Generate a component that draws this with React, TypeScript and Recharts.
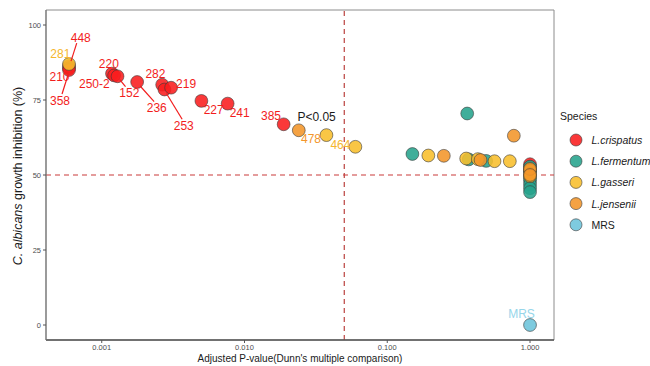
import React from 'react';
import { ScatterChart, Scatter, XAxis, YAxis, ReferenceLine, ReferenceArea } from 'recharts';

const FONT = '"Liberation Sans", Arial, Helvetica, sans-serif';

// ---------- data ----------
const speciesNames = ['L.crispatus', 'L.fermentum', 'L.gasseri', 'L.jensenii', 'MRS'];

const crispatusP = [0.00059, 0.00059, 0.00059, 0.00118, 0.00122, 0.00129, 0.00177, 0.00265, 0.00275, 0.00306, 0.00499, 0.00762, 0.0188, 1, 1, 1];
const crispatusInh = [86.3, 85.6, 85.0, 83.8, 83.2, 82.9, 81.0, 80.1, 78.5, 79.1, 74.7, 73.8, 66.9, 53.6, 52.6, 51.6];
const crispatusLabels = ['448', '210', '358', '220', '250-2', '152', '236', '282', '253', '219', '227', '241', '385', '', '', ''];

const fermentumP = [0.15, 0.363, 0.372, 0.493, 1, 1, 1, 1, 1, 1, 1];
const fermentumInh = [57.0, 70.5, 55.2, 54.7, 52.8, 51.0, 49.0, 48.0, 46.8, 45.6, 44.3];
const fermentumLabels = ['', '', '', '', '', '', '', '', '', '', ''];

const gasseriP = [0.00059, 0.0375, 0.0598, 0.194, 0.357, 0.431, 0.564, 0.722, 1, 1, 1];
const gasseriInh = [87.0, 63.3, 59.4, 56.5, 55.5, 55.3, 54.6, 54.6, 51.5, 50.3, 49.6];
const gasseriLabels = ['281', '464', '', '', '', '', '', '', '', '', ''];

const jenseniiP = [0.024, 0.249, 0.45, 0.77, 1, 1];
const jenseniiInh = [64.9, 56.4, 55.0, 63.1, 52.0, 50.0];
const jenseniiLabels = ['478', '', '', '', '', ''];

const mrsP = [1];
const mrsInh = [0];
const mrsLabels = ['MRS'];

const xTicks = [0.001, 0.01, 0.1, 1];
const yTicks = [0, 25, 50, 75, 100];
const pThreshold = 0.05;
const inhThreshold = 50;
const annotationText = 'P<0.05';
const annotationP = 0.032;
const annotationInh = 69.2;

// ---------- styles ----------
const X_DOMAIN = [0.000407, 1.472];
const Y_DOMAIN = [-5, 105];

const COLORS = ['#F91C1E', '#25A38C', '#F8BE2B', '#F39529', '#6CC4DB'];
const LABEL_COLORS = ['#F21D1D', '#25A38C', '#F5B62E', '#F3962B', '#96D6EA'];

// label offsets in pixels (text centre relative to point), optional leader segment
const LABEL_OFFSETS: Record<string, { dx: number; dy: number; seg?: [number, number, number, number] }> = {
  '448': { dx: 11.7, dy: -28.5, seg: [2, -5, 7.7, -23] },
  '210': { dx: -9.5, dy: 8.3 },
  '358': { dx: -9, dy: 31, seg: [-1, 5, -7, 24] },
  '220': { dx: -3.2, dy: -9.3 },
  '250-2': { dx: -19.7, dy: 8.6 },
  '152': { dx: 11.8, dy: 17, seg: [2, 3, 8, 10.4] },
  '236': { dx: 19.6, dy: 26.3, seg: [3, 4, 17, 19.7] },
  '282': { dx: -6.7, dy: -10.4 },
  '253': { dx: 19.3, dy: 36.2, seg: [2, 4, 17.7, 29.8] },
  '219': { dx: 15, dy: -3.4 },
  '227': { dx: 12.3, dy: 9 },
  '241': { dx: 12, dy: 9 },
  '385': { dx: -12.6, dy: -8.6 },
  '281': { dx: -8.7, dy: -9.7 },
  '464': { dx: 14, dy: 10 },
  '478': { dx: 12.2, dy: 9 },
  'MRS': { dx: -8.5, dy: -11 },
};

const seriesP = [crispatusP, fermentumP, gasseriP, jenseniiP, mrsP];
const seriesInh = [crispatusInh, fermentumInh, gasseriInh, jenseniiInh, mrsInh];
const seriesLabels = [crispatusLabels, fermentumLabels, gasseriLabels, jenseniiLabels, mrsLabels];

const seriesData = speciesNames.map((name, i) =>
  seriesP[i].map((p, j) => ({ x: p, y: seriesInh[i][j], label: seriesLabels[i][j], si: i }))
);
const labelData = seriesData.flat().filter((d) => d.label !== '');
const annotationData = [{ x: annotationP, y: annotationInh, text: annotationText }];

const makePoint = (color: string) => (props: any) => {
  const { cx, cy } = props;
  if (cx == null || cy == null) return <g />;
  return <circle cx={cx} cy={cy} r={6.4} fill={color} fillOpacity={0.88} stroke="#3a3a3a" strokeWidth={0.6} />;
};

const LabelShape = (props: any) => {
  const { cx, cy, payload } = props;
  if (cx == null || cy == null) return <g />;
  const off = LABEL_OFFSETS[payload.label] || { dx: 0, dy: -10 };
  const color = LABEL_COLORS[payload.si];
  return (
    <g>
      {off.seg && (
        <line
          x1={cx + off.seg[0]}
          y1={cy + off.seg[1]}
          x2={cx + off.seg[2]}
          y2={cy + off.seg[3]}
          stroke={color}
          strokeWidth={1.2}
        />
      )}
      <text
        x={cx + off.dx}
        y={cy + off.dy}
        textAnchor="middle"
        dominantBaseline="central"
        fontSize={12}
        fontFamily={FONT}
        fill={color}
      >
        {payload.label}
      </text>
    </g>
  );
};

const AnnotationShape = (props: any) => {
  const { cx, cy, payload } = props;
  if (cx == null || cy == null) return <g />;
  return (
    <text x={cx} y={cy} textAnchor="middle" dominantBaseline="central" fontSize={12} fontFamily={FONT} fill="#1a1a1a">
      {payload.text}
    </text>
  );
};

const YTitle = (props: any) => {
  const vb = props.viewBox || { x: 0, y: 10, width: 46, height: 330 };
  const x = vb.x + 18;
  const y = vb.y + vb.height / 2 + 1;
  return (
    <text
      x={x}
      y={y}
      transform={`rotate(-90, ${x}, ${y})`}
      textAnchor="middle"
      dominantBaseline="central"
      fontSize={12.5}
      fontFamily={FONT}
      fill="#1a1a1a"
    >
      <tspan fontStyle="italic">C. albicans</tspan>
      <tspan> growth inhibition (%)</tspan>
    </text>
  );
};

const XTitle = (props: any) => {
  const vb = props.viewBox || { x: 46, y: 340, width: 508, height: 26 };
  return (
    <text
      x={vb.x + vb.width / 2}
      y={vb.y + 21.5}
      textAnchor="middle"
      fontSize={10}
      fontFamily={FONT}
      fill="#1a1a1a"
    >
      Adjusted P-value(Dunn's multiple comparison)
    </text>
  );
};

const LegendBox = () => (
  <svg
    width={95}
    height={140}
    style={{ position: 'absolute', left: 555, top: 106, overflow: 'visible' }}
  >
    <text x={5} y={14} fontSize={10.5} fontFamily={FONT} fill="#1a1a1a">
      Species
    </text>
    {speciesNames.map((name, i) => (
      <g key={name}>
        <circle cx={21} cy={34 + i * 21.2} r={6} fill={COLORS[i]} fillOpacity={0.88} stroke="#3a3a3a" strokeWidth={0.6} />
        <text
          x={36.5}
          y={34 + i * 21.2}
          dominantBaseline="central"
          fontSize={10.5}
          fontFamily={FONT}
          fontStyle={name === 'MRS' ? 'normal' : 'italic'}
          fill="#1a1a1a"
        >
          {name}
        </text>
      </g>
    ))}
  </svg>
);

export default function App() {
  return (
    <div style={{ position: 'absolute', left: 0, top: 0, width: 650, height: 366, background: '#fff', overflow: 'hidden' }}>
      <ScatterChart width={650} height={366} margin={{ top: 10, right: 96, bottom: 0, left: 0 }}>
        <ReferenceArea
          x1={X_DOMAIN[0]}
          x2={X_DOMAIN[1]}
          y1={Y_DOMAIN[0]}
          y2={Y_DOMAIN[1]}
          fill="none"
          stroke="#8c8c8c"
          strokeWidth={1}
          ifOverflow="visible"
        />
        <XAxis
          type="number"
          dataKey="x"
          scale="log"
          domain={X_DOMAIN}
          allowDataOverflow
          ticks={xTicks}
          tickFormatter={(v: number) => v.toFixed(3)}
          height={26}
          tickSize={3}
          tickLine={{ stroke: '#555' }}
          axisLine={{ stroke: '#555', strokeWidth: 1.3 }}
          tick={{ fontSize: 7.5, fill: '#4d4d4d', fontFamily: FONT }}
          label={<XTitle />}
        />
        <YAxis
          type="number"
          dataKey="y"
          domain={Y_DOMAIN}
          allowDataOverflow
          ticks={yTicks}
          width={46}
          tickSize={3}
          tickLine={{ stroke: '#555' }}
          axisLine={{ stroke: '#777', strokeWidth: 1.1 }}
          tick={{ fontSize: 7.5, fill: '#4d4d4d', fontFamily: FONT }}
          label={<YTitle />}
        />
        <ReferenceLine x={pThreshold} stroke="#C0504D" strokeWidth={1.3} strokeDasharray="5 4" />
        <ReferenceLine y={inhThreshold} stroke="#C93A3A" strokeWidth={1.2} strokeDasharray="5 4" />
        {speciesNames.map((name, i) => (
          <Scatter
            key={name}
            name={name}
            data={seriesData[i]}
            fill={COLORS[i]}
            shape={makePoint(COLORS[i])}
            isAnimationActive={false}
          />
        ))}
        <Scatter name="labels" data={labelData} shape={LabelShape} isAnimationActive={false} legendType="none" />
        <Scatter name="annotation" data={annotationData} shape={AnnotationShape} isAnimationActive={false} legendType="none" />
      </ScatterChart>
      <LegendBox />
    </div>
  );
}
